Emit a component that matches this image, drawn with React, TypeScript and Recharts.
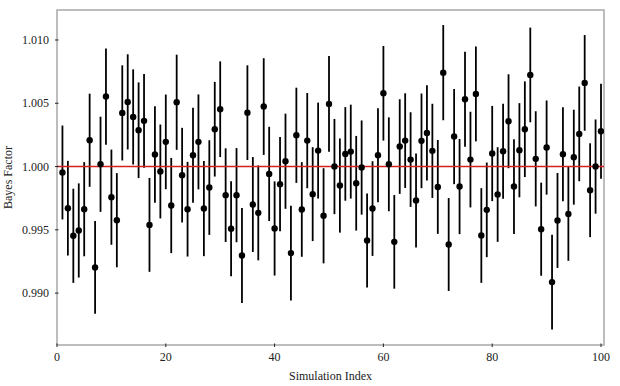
import {
  ScatterChart,
  Scatter,
  XAxis,
  YAxis,
  ErrorBar,
  ReferenceLine,
  ReferenceArea,
  Label,
} from 'recharts';

// Bayes factor per simulation (index 1..100)
const bayesFactor = [
  0.99953, 0.99671, 0.99453, 0.99495, 0.99663, 1.00208, 0.99203, 1.00018, 1.00553, 0.99758,
  0.99576, 1.00424, 1.00511, 1.00392, 1.00287, 1.00361, 0.99539, 1.00095, 0.99961, 1.00195,
  0.99692, 1.00508, 0.99932, 0.99663, 1.00089, 1.00195, 0.99668, 0.99834, 1.00295, 1.00453,
  0.99774, 0.99508, 0.99774, 0.99297, 1.00426, 0.997, 0.99634, 1.00474, 0.99942, 0.99511,
  0.99861, 1.00042, 0.99316, 1.00247, 0.99661, 1.00205, 0.99782, 1.00126, 0.99611, 1.00495,
  1.0, 0.9985, 1.001, 1.00118, 0.99868, 0.99992, 0.99416, 0.99668, 1.00089, 1.00579,
  1.00018, 0.99405, 1.00158, 1.00205, 1.00055, 0.99732, 1.00203, 1.00266, 1.00124, 0.99839,
  1.00742, 0.99384, 1.00237, 0.99842, 1.00532, 1.00055, 1.00574, 0.99455, 0.99658, 1.00103,
  0.99779, 1.00121, 1.00358, 0.99842, 1.00129, 1.00295, 1.00724, 1.00061, 0.99505, 1.0015,
  0.99087, 0.99574, 1.00097, 0.99626, 1.00074, 1.00258, 1.00661, 0.99813, 1.0, 1.00279,
];

// half-length of each error bar
const errors = [
  0.00371, 0.00374, 0.00372, 0.00372, 0.00372, 0.00368, 0.00366, 0.00376, 0.0038, 0.00376,
  0.00372, 0.00376, 0.00376, 0.00376, 0.00378, 0.0037, 0.00371, 0.00382, 0.00371, 0.00374,
  0.00376, 0.00376, 0.00374, 0.00374, 0.00375, 0.00375, 0.00376, 0.00374, 0.00374, 0.00378,
  0.0037, 0.00375, 0.00372, 0.00375, 0.00374, 0.00375, 0.00375, 0.00382, 0.00372, 0.00372,
  0.00372, 0.00376, 0.00375, 0.00376, 0.00374, 0.00376, 0.00371, 0.00379, 0.00376, 0.00379,
  0.00376, 0.00372, 0.0037, 0.00371, 0.00374, 0.00372, 0.00371, 0.00374, 0.00371, 0.00374,
  0.00371, 0.0037, 0.00374, 0.00374, 0.00374, 0.00371, 0.00374, 0.00376, 0.00372, 0.00371,
  0.00376, 0.00367, 0.00376, 0.00376, 0.00375, 0.00378, 0.00375, 0.00374, 0.00374, 0.00376,
  0.00374, 0.00376, 0.00371, 0.00374, 0.00372, 0.00378, 0.00374, 0.00376, 0.00368, 0.00372,
  0.00375, 0.00375, 0.00372, 0.00371, 0.00375, 0.00374, 0.00378, 0.00371, 0.00372, 0.00376,
];

const xTicks = [0, 20, 40, 60, 80, 100];
const yTicks = [0.99, 0.995, 1.0, 1.005, 1.01];

const data = bayesFactor.map((bf, i) => ({ index: i + 1, bf, err: errors[i] }));

const X_DOMAIN: [number, number] = [0, 100.55];
const Y_DOMAIN: [number, number] = [0.9859, 1.01237];
const FONT = '"Liberation Serif", "DejaVu Serif", serif';

const XTick = (props: any) => {
  const { x, y, payload } = props;
  return (
    <g>
      <line x1={x} y1={y} x2={x} y2={y - 3.5} stroke="#222" strokeWidth={1} />
      <text x={x} y={y + 14} textAnchor="middle" fontSize={12} fontFamily={FONT} fill="#222">
        {payload.value}
      </text>
    </g>
  );
};

const YTick = (props: any) => {
  const { x, y, payload } = props;
  return (
    <g>
      <line x1={x} y1={y} x2={x + 3.5} y2={y} stroke="#222" strokeWidth={1} />
      <text x={x - 6} y={y + 4} textAnchor="end" fontSize={12} fontFamily={FONT} fill="#222">
        {Number(payload.value).toFixed(3)}
      </text>
    </g>
  );
};

const Dot = (props: any) => <circle cx={props.cx} cy={props.cy} r={3.2} fill="#000" />;

export default function App() {
  return (
    <div style={{ position: 'absolute', left: 0, top: 0, background: '#fff' }}>
      <ScatterChart width={620} height={386} margin={{ top: 10, right: 16, bottom: 0, left: 0 }}>
        <XAxis
          type="number"
          dataKey="index"
          domain={X_DOMAIN}
          ticks={xTicks}
          allowDataOverflow
          height={41}
          tickSize={0}
          tickLine={false}
          axisLine={false}
          tick={<XTick />}
        >
          <Label
            value="Simulation Index"
            position="insideBottom"
            offset={6}
            style={{ fontSize: 12, fontFamily: FONT, fill: '#222' }}
          />
        </XAxis>
        <YAxis
          type="number"
          dataKey="bf"
          domain={Y_DOMAIN}
          ticks={yTicks}
          allowDataOverflow
          width={57}
          tickSize={0}
          tickLine={false}
          axisLine={false}
          tick={<YTick />}
        >
          <Label
            value="Bayes Factor"
            angle={-90}
            position="insideLeft"
            offset={8}
            style={{ fontSize: 12, fontFamily: FONT, fill: '#222', textAnchor: 'middle' }}
          />
        </YAxis>
        <ReferenceArea
          x1={X_DOMAIN[0]}
          x2={X_DOMAIN[1]}
          y1={Y_DOMAIN[0]}
          y2={Y_DOMAIN[1]}
          fill="none"
          stroke="#a8a8a8"
          strokeWidth={1.5}
          fillOpacity={0}
        />
        <Scatter data={data} shape={<Dot />} isAnimationActive={false}>
          <ErrorBar dataKey="err" direction="y" width={0} stroke="#000" strokeWidth={1.8} />
        </Scatter>
        <ReferenceLine y={1} stroke="#d42020" strokeWidth={1.5} />
      </ScatterChart>
    </div>
  );
}
